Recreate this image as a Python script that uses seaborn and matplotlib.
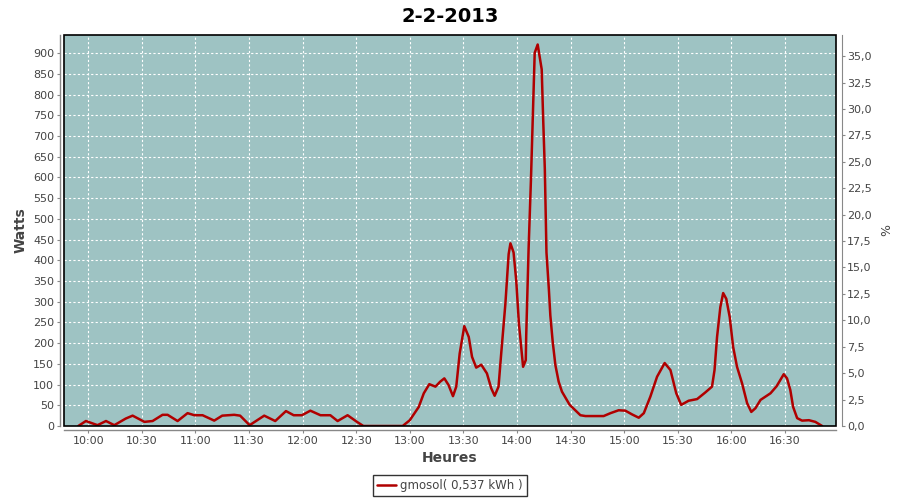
import matplotlib
matplotlib.use("Agg")
import matplotlib.pyplot as plt
import matplotlib.dates as mdates
from matplotlib.patches import Rectangle
from matplotlib.ticker import MultipleLocator, FuncFormatter
import pandas as pd
import seaborn as sns

# Data
times = [
    "09:54:25", "09:58:40", "10:05:10", "10:09:55", "10:14:35", "10:21:00", "10:24:50",
    "10:31:25", "10:36:00", "10:41:35", "10:44:25", "10:50:00", "10:55:35", "10:59:25",
    "11:04:00", "11:10:30", "11:15:00", "11:21:40", "11:25:00", "11:30:20", "11:38:30",
    "11:44:40", "11:50:40", "11:55:00", "11:59:35", "12:04:20", "12:10:00", "12:15:30",
    "12:19:35", "12:25:10", "12:30:25", "12:34:00", "12:56:00", "13:00:00", "13:05:00",
    "13:07:50", "13:10:55", "13:14:20", "13:17:00", "13:19:20", "13:21:40", "13:24:10",
    "13:26:00", "13:27:55", "13:30:30", "13:33:00", "13:34:50", "13:37:10", "13:40:00",
    "13:43:10", "13:45:35", "13:47:30", "13:49:40", "13:51:10", "13:53:30", "13:55:20",
    "13:56:20", "13:58:05", "13:59:35", "14:01:05", "14:03:25", "14:04:55", "14:05:10",
    "14:06:30", "14:07:50", "14:09:55", "14:11:35", "14:13:50", "14:14:40", "14:15:35",
    "14:16:30", "14:17:50", "14:18:40", "14:20:00", "14:21:30", "14:23:20", "14:25:10",
    "14:29:30", "14:35:30", "14:38:20", "14:48:30", "14:52:20", "14:56:55", "15:00:40",
    "15:04:25", "15:08:10", "15:11:00", "15:14:40", "15:18:25", "15:22:40", "15:25:55",
    "15:29:10", "15:31:55", "15:36:05", "15:40:50", "15:45:25", "15:49:10", "15:50:35",
    "15:52:00", "15:53:50", "15:55:25", "15:57:10", "15:59:05", "16:01:00", "16:03:10",
    "16:06:00", "16:08:50", "16:11:10", "16:13:30", "16:16:20", "16:21:55", "16:25:20",
    "16:29:20", "16:31:10", "16:33:00", "16:34:35", "16:36:50", "16:39:35", "16:43:25",
    "16:47:00", "16:50:50",
]
watts = [
    0, 12, 2, 12, 2, 18, 25,
    10, 12, 27, 27, 12, 31, 26,
    26, 13, 25, 27, 25, 2, 25,
    12, 36, 26, 26, 37, 26, 26,
    12, 26, 10, 0, 0, 14, 46,
    79, 101, 95, 107, 115, 99, 72,
    95, 175, 241, 215, 167, 141, 148,
    127, 91, 73, 95, 175, 295, 415,
    441, 419, 351, 247, 143, 159, 219,
    428, 597, 901, 921, 861, 740, 620,
    419, 331, 267, 203, 147, 107, 83,
    51, 26, 24, 24, 31, 38, 37,
    28, 20, 31, 71, 119, 152, 135,
    79, 51, 61, 65, 81, 95, 135,
    215, 287, 321, 307, 263, 191, 143,
    103, 55, 34, 43, 63, 79, 96,
    125, 115, 87, 46, 19, 13, 14,
    10, 0,
]
tick_times = ["10:00", "10:30", "11:00", "11:30", "12:00", "12:30", "13:00",
              "13:30", "14:00", "14:30", "15:00", "15:30", "16:00", "16:30"]
title = "2-2-2013"
legend_label = "gmosol( 0,537 kWh )"

day = "2013-02-02 "
df = pd.DataFrame({"time": pd.to_datetime([day + t for t in times]), "watts": watts})

sns.set_style("ticks")
plt.rcParams["font.family"] = ["DejaVu Sans"]

bg = "#9ec3c3"
line_col = "#b00000"
txt = "#444444"
axis_gray = "#888888"

fig = plt.figure(figsize=(9, 5), dpi=100)
ax = fig.add_axes([64 / 900, 1 - 426 / 500, (836 - 64) / 900, (426 - 35) / 500])
ax.set_facecolor(bg)

sns.lineplot(data=df, x="time", y="watts", ax=ax, color=line_col, linewidth=1.8,
             label=legend_label, legend=False)

ax.set_xlim(pd.Timestamp(day + "09:46:25"), pd.Timestamp(day + "16:58:35"))
ax.set_ylim(0, 944)
ax.yaxis.set_major_locator(MultipleLocator(50))
ax.set_xticks(pd.to_datetime([day + t for t in tick_times]))
ax.xaxis.set_major_formatter(mdates.DateFormatter("%H:%M"))

ax.grid(True, color="white", linestyle=(0, (2, 2)), linewidth=0.8)
ax.set_axisbelow(True)

for s in ["top", "right"]:
    ax.spines[s].set_visible(False)
for s in ["left", "bottom"]:
    ax.spines[s].set_position(("outward", 3))
    ax.spines[s].set_color(axis_gray)
    ax.spines[s].set_linewidth(1.0)
ax.tick_params(axis="both", length=2, color=axis_gray, labelcolor=txt, labelsize=8, pad=2)

ax.add_patch(Rectangle((0, 0), 1, 1, transform=ax.transAxes, fill=False,
                       edgecolor="black", linewidth=1.2, zorder=5, clip_on=False))

ax.set_xlabel("Heures", fontsize=10, fontweight="bold", color=txt, labelpad=4)
ax.set_ylabel("Watts", fontsize=10, fontweight="bold", color=txt, labelpad=4)

ax2 = ax.twinx()
ax2.set_ylim(0, 37.0)
ax2.yaxis.set_major_locator(MultipleLocator(2.5))
ax2.yaxis.set_major_formatter(FuncFormatter(lambda v, p: f"{v:.1f}".replace(".", ",")))
for s in ["top", "left", "bottom"]:
    ax2.spines[s].set_visible(False)
ax2.spines["right"].set_position(("outward", 4))
ax2.spines["right"].set_color(axis_gray)
ax2.tick_params(axis="y", length=2, color=axis_gray, labelcolor=txt, labelsize=8, pad=2)
ax2.set_ylabel("%", fontsize=9, color=txt, labelpad=6)

fig.suptitle(title, x=0.5, y=0.985, fontsize=14, fontweight="bold", va="top", color="black")

handles, labels = ax.get_legend_handles_labels()
leg = fig.legend(handles, labels, loc="lower center", bbox_to_anchor=(0.5, 0.0),
                 fontsize=8.5, frameon=True, fancybox=False, handlelength=1.6,
                 borderpad=0.35, handletextpad=0.4, borderaxespad=0.3)
leg.get_frame().set_edgecolor("black")
leg.get_frame().set_linewidth(1.0)
for t in leg.get_texts():
    t.set_color(txt)

fig.savefig("out.png", dpi=100)
